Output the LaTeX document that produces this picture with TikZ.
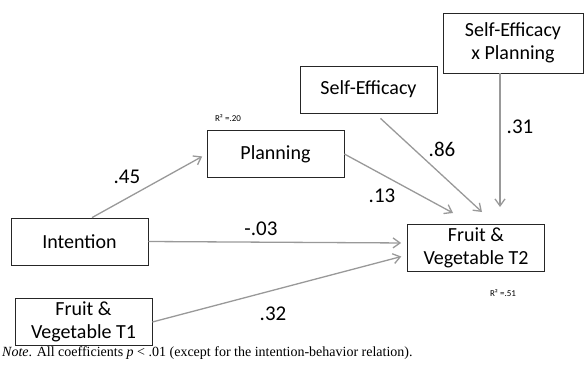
\documentclass[tikz,border=0pt]{standalone}
\usepackage{fontspec}
\setmainfont{Carlito}
\newfontfamily\notefont{Liberation Serif}
\usetikzlibrary{arrows.meta}

\begin{document}
\begin{tikzpicture}[x=1pt,y=-1pt,
  box/.style={draw=black!85,line width=0.8pt,minimum width=137pt,minimum height=47pt,
    inner sep=0pt,align=center,font=\fontsize{20}{23}\selectfont},
  path/.style={draw=gray!80,line width=1.3pt,-{Straight Barb[length=7pt,width=10pt]}},
  coef/.style={font=\fontsize{21}{24}\selectfont},
  rsq/.style={font=\fontsize{9}{10}\selectfont}]
  \useasboundingbox (0,0) rectangle (584,365);

  % Boxes
  \node[box] (intn) at (79.5,241.5) {Intention};
  \node[box] (fv1) at (83.5,322) {Fruit \&\\Vegetable T1};
  \node[box] (plan) at (275.5,154) {Planning};
  \node[box] (self) at (368.5,89.5) {Self-Efficacy};
  \node[box,minimum width=140pt,minimum height=60pt] (sxp) at (513,43) {Self-Efficacy\\x Planning};
  \node[box] (fv2) at (476,248) {Fruit \&\\Vegetable T2};

  % Arrow ends above the outcome box
  \coordinate (tip13) at (453,213);
  \coordinate (tip86) at (482,212);
  \coordinate (tip31) at (500,207);

  % Paths
  \draw[path,shorten >=5pt] ([xshift=12.5pt]intn.north) -- (plan.west);
  \draw[path,shorten >=6pt] (intn.east) -- ([yshift=5pt]fv2.west);
  \draw[path,shorten >=6pt] (fv1.east) -- ([yshift=-7pt]fv2.west);
  \draw[path] (plan.east) -- (tip13);
  \draw[path] ([xshift=12pt,yshift=-5pt]self.south) -- (tip86);
  \draw[path] ([xshift=-13pt]sxp.south) -- (tip31);

  % Coefficients
  \node[coef] (c45) at (127,177) {.45};
  \node[coef] (c03) at (261,229) {-.03};
  \node[coef] (c32) at (273,314) {.32};
  \node[coef] (c13) at (382,196) {.13};
  \node[coef] (c86) at (442,149) {.86};
  \node[coef] (c31) at (520,126.5) {.31};

  % Explained variance
  \node[rsq] (r20) at (228,118) {R² =.20};
  \node[rsq] (r51) at (503,293) {R² =.51};

  % Note
  \node[anchor=west,inner sep=0pt,font=\notefont\fontsize{14}{16}\selectfont] (note) at (2,353)
    {\textit{Note}. All coefficients \textit{p} < .01 (except for the intention-behavior relation).};
\end{tikzpicture}
\end{document}
